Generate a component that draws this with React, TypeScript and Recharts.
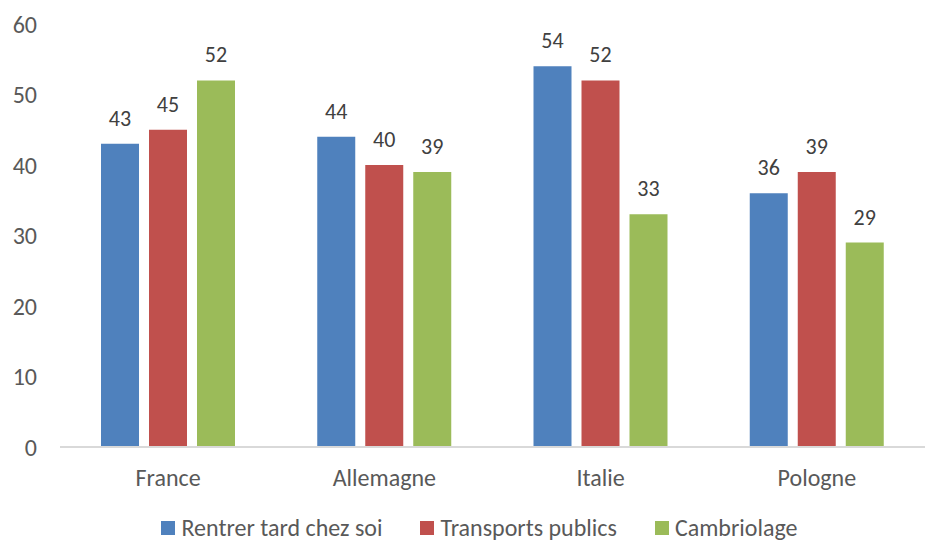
import React from 'react';
import { BarChart, Bar, XAxis, YAxis, Legend, LabelList } from 'recharts';

const countries = ['France', 'Allemagne', 'Italie', 'Pologne'];
const rentrerTard = [43, 44, 54, 36];
const transports = [45, 40, 52, 39];
const cambriolage = [52, 39, 33, 29];
const yTicks = [0, 10, 20, 30, 40, 50, 60];

const seriesNames = ['Rentrer tard chez soi', 'Transports publics', 'Cambriolage'];
const seriesColors = ['#4F81BD', '#C0504D', '#9BBB59'];

const data = countries.map((name, i) => ({
  name,
  rentrer: rentrerTard[i],
  transports: transports[i],
  cambriolage: cambriolage[i],
}));

const FONT = 'Carlito, "Open Sans", "Noto Sans", sans-serif';

const LegendContent = () => (
  <div style={{ display: 'flex', justifyContent: 'center', alignItems: 'center', fontFamily: FONT, fontSize: 24, lineHeight: '28px', color: '#595959', paddingLeft: 34 }}>
    {seriesNames.map((n, i) => (
      <div key={n} style={{ display: 'flex', alignItems: 'center', marginRight: i < seriesNames.length - 1 ? 38 : 0 }}>
        <span style={{ display: 'inline-block', width: 14, height: 14, background: seriesColors[i], marginRight: 6 }} />
        <span>{n}</span>
      </div>
    ))}
  </div>
);

const App: React.FC = () => {
  return (
    <div style={{ position: 'absolute', left: 0, top: 0, width: 926, height: 543, background: '#fff' }}>
      <BarChart
        width={926}
        height={543}
        data={data}
        margin={{ top: 24, right: 1, left: 0, bottom: 0 }}
        barGap={10}
        barCategoryGap={41}
      >
        <XAxis
          dataKey="name"
          axisLine={{ stroke: '#D9D9D9', strokeWidth: 2 }}
          tickLine={false}
          tickSize={0}
          tickMargin={22}
          height={67}
          tick={{ fill: '#595959', fontSize: 24, fontFamily: FONT }}
        />
        <YAxis
          domain={[0, 60]}
          ticks={yTicks}
          axisLine={false}
          tickLine={false}
          tickSize={0}
          tickMargin={23}
          width={60}
          tick={{ fill: '#595959', fontSize: 24, fontFamily: FONT }}
        />
        <Legend verticalAlign="bottom" height={29} content={<LegendContent />} />
        <Bar dataKey="rentrer" name={seriesNames[0]} fill={seriesColors[0]} isAnimationActive={false}>
          <LabelList dataKey="rentrer" position="top" offset={18} fill="#404040" fontSize={22} fontFamily={FONT} />
        </Bar>
        <Bar dataKey="transports" name={seriesNames[1]} fill={seriesColors[1]} isAnimationActive={false}>
          <LabelList dataKey="transports" position="top" offset={18} fill="#404040" fontSize={22} fontFamily={FONT} />
        </Bar>
        <Bar dataKey="cambriolage" name={seriesNames[2]} fill={seriesColors[2]} isAnimationActive={false}>
          <LabelList dataKey="cambriolage" position="top" offset={18} fill="#404040" fontSize={22} fontFamily={FONT} />
        </Bar>
      </BarChart>
    </div>
  );
};

export default App;
